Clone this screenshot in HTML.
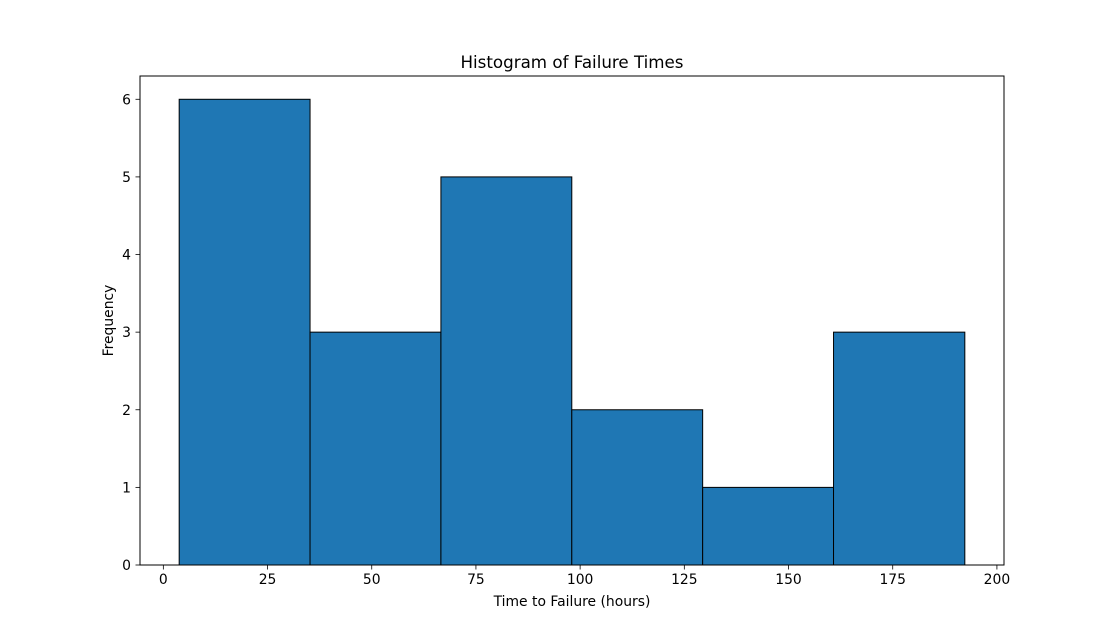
<!DOCTYPE html>
<html><head><meta charset="utf-8">
<style>
body{margin:0;background:#fff;}
svg text{font-family:"DejaVu Sans","Liberation Sans",sans-serif;}
</style></head>
<body>
<svg id="chart" width="1116" height="635" xmlns="http://www.w3.org/2000/svg"></svg>
<script>
const binEdges = [3.8, 35.2, 66.6, 98.0, 129.4, 160.8, 192.3];
const counts = [6, 3, 5, 2, 1, 3];
const xTicks = [0, 25, 50, 75, 100, 125, 150, 175, 200];
const yTicks = [0, 1, 2, 3, 4, 5, 6];

const L=140,R=1004,T=76,B=565;
const xMin=-5.6,xMax=201.7,yMin=0,yMax=6.3;
const sx=v=>L+(v-xMin)/(xMax-xMin)*(R-L);
const sy=v=>B-(v-yMin)/(yMax-yMin)*(B-T);
const svg=document.getElementById('chart');
const NS='http://www.w3.org/2000/svg';
function mk(tag,attrs,text){const e=document.createElementNS(NS,tag);for(const k in attrs)e.setAttribute(k,attrs[k]);if(text!==undefined)e.textContent=text;svg.appendChild(e);return e;}

for(let i=0;i<counts.length;i++){
  const x0=sx(binEdges[i]),x1=sx(binEdges[i+1]);
  const r=mk('rect',{x:x0,y:sy(counts[i]),width:x1-x0,height:sy(0)-sy(counts[i]),fill:'#1f77b4',stroke:'#000','stroke-width':1});
  
  
}
const frame=mk('rect',{x:L,y:T,width:R-L,height:B-T,fill:'none',stroke:'#000','stroke-width':1});



xTicks.forEach(v=>{
  const x=sx(v);
  mk('line',{x1:x,x2:x,y1:B,y2:B+4.5,stroke:'#000','stroke-width':0.8});
  const t=mk('text',{x:x,y:B+19,'font-size':13.9,'text-anchor':'middle',fill:'#000'},String(v));
  
  
});
yTicks.forEach(v=>{
  const y=sy(v);
  mk('line',{x1:L,x2:L-4.5,y1:y,y2:y,stroke:'#000','stroke-width':0.8});
  const t=mk('text',{x:L-9,y:y+5,'font-size':13.9,'text-anchor':'end',fill:'#000'},String(v));
  
  
});
const title=mk('text',{x:(L+R)/2,y:68,'font-size':16.7,'text-anchor':'middle',fill:'#000'},'Histogram of Failure Times');


const xl=mk('text',{x:(L+R)/2,y:606,'font-size':13.9,'text-anchor':'middle',fill:'#000'},'Time to Failure (hours)');


const yl=mk('text',{x:0,y:0,'font-size':13.9,'text-anchor':'middle',fill:'#000',transform:'translate(113,'+((T+B)/2)+') rotate(-90)'},'Frequency');


</script>
</body></html>
